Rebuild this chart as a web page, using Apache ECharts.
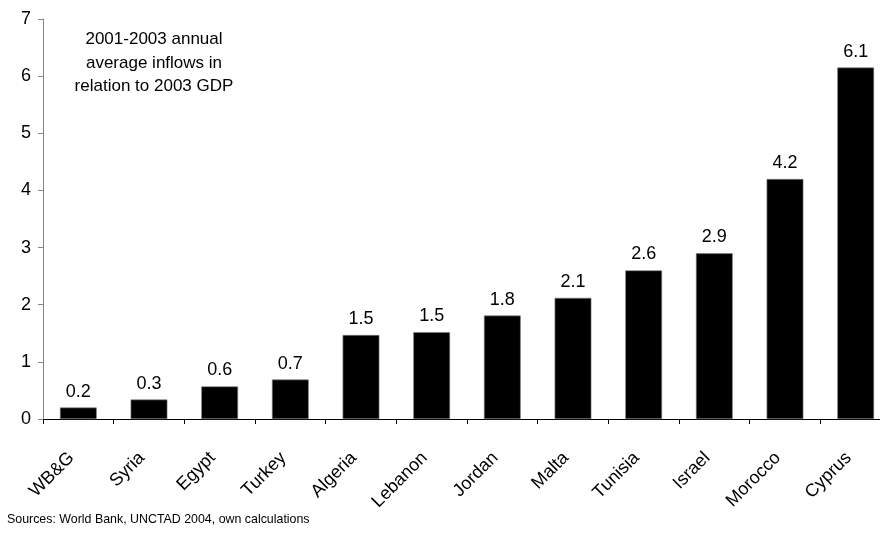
<!DOCTYPE html>
<html>
<head>
<meta charset="utf-8">
<script src="https://cdn.jsdelivr.net/npm/echarts@6/dist/echarts.min.js"></script>
<style>
html,body{margin:0;padding:0;background:#fff;overflow:hidden;}
#chart{width:891px;height:536px;}
</style>
</head>
<body>
<div id="chart"></div>
<script>
const categories = ['WB&G','Syria','Egypt','Turkey','Algeria','Lebanon','Jordan','Malta','Tunisia','Israel','Morocco','Cyprus'];
const values = [0.20, 0.34, 0.57, 0.69, 1.47, 1.52, 1.81, 2.12, 2.60, 2.90, 4.20, 6.15];
const valueLabels = ['0.2','0.3','0.6','0.7','1.5','1.5','1.8','2.1','2.6','2.9','4.2','6.1'];
const annotation = '2001-2003 annual\naverage inflows in\nrelation to 2003 GDP';
const sourceNote = 'Sources: World Bank, UNCTAD 2004, own calculations';

const font = 'Arial, "Liberation Sans", sans-serif';
const chart = echarts.init(document.getElementById('chart'), null, {renderer:'canvas'});
chart.setOption({
  animation:false,
  backgroundColor:'#fff',
  grid:{left:43, top:19, right:0, bottom:117, containLabel:false, outerBoundsMode:'none'},
  xAxis:{
    type:'category',
    data:categories,
    axisLine:{lineStyle:{color:'#000', width:1}},
    axisTick:{show:true, length:5, lineStyle:{color:'#000'}},
    axisLabel:{rotate:45, margin:29, padding:[0,10,0,0], color:'#000', fontSize:18, fontFamily:font, interval:0},
    splitLine:{show:false}
  },
  yAxis:{
    type:'value',
    min:0, max:7, interval:1,
    axisLine:{show:true, lineStyle:{color:'#868686', width:1}},
    axisTick:{show:true, length:5, lineStyle:{color:'#868686'}},
    axisLabel:{color:'#000', fontSize:18, fontFamily:font, margin:12},
    splitLine:{show:false}
  },
  series:[{
    type:'bar',
    data:values,
    barWidth:'52%',
    itemStyle:{color:'#000', borderColor:'#7f7f7f', borderWidth:0.6},
    label:{
      show:true, position:'top', distance:7,
      color:'#000', fontSize:18, fontFamily:font,
      formatter:p=>valueLabels[p.dataIndex]
    }
  }],
  graphic:[
    {type:'text', x:154, y:28, style:{text:annotation, font:'17px '+font, fill:'#000', textAlign:'center', textVerticalAlign:'top', lineHeight:23.5}},
    {type:'text', x:7, y:520, style:{text:sourceNote, font:'12.4px '+font, fill:'#000', textAlign:'left', textVerticalAlign:'middle'}}
  ]
});
</script>
</body>
</html>
